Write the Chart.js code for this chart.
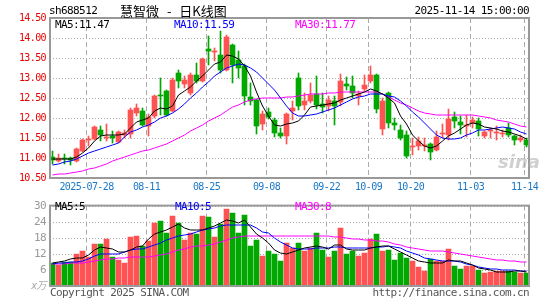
<!DOCTYPE html>
<html>
<head>
<meta charset="utf-8">
<script src="https://cdn.jsdelivr.net/npm/chart.js@4.4.0/dist/chart.umd.min.js"></script>
<style>
body { margin: 0; background: #fff; }
#wrap { position: relative; width: 545px; height: 300px; overflow: hidden;
  font-family: "DejaVu Sans Mono", monospace; font-size: 11px; letter-spacing: -0.6px; }
.t { position: absolute; line-height: 12px; white-space: nowrap; }
canvas { position: absolute; left: 0; }
</style>
</head>
<body>
<div id="wrap">
  <canvas id="k" width="545" height="200" style="top:0"></canvas>
  <canvas id="v" width="545" height="105" style="top:195px"></canvas>

  <div class="t" style="left:49px;top:5px">sh688512</div>
  <div class="t" style="left:120px;top:3px;font-family:'Noto Sans CJK SC';font-size:13px;letter-spacing:0;word-spacing:5px;line-height:15px">慧智微 - 日K线图</div>
  <div class="t" style="right:16px;top:5px">2025-11-14 15:00:00</div>

  <div class="t" style="left:55px;top:19px;color:#000">MA5:11.47</div>
  <div class="t" style="left:174px;top:19px;color:#0000ff">MA10:11.59</div>
  <div class="t" style="left:295px;top:19px;color:#ff00ff">MA30:11.77</div>

  <div class="t" style="left:55px;top:201px;color:#000">MA5:5</div>
  <div class="t" style="left:175px;top:201px;color:#0000ff">MA10:5</div>
  <div class="t" style="left:295px;top:201px;color:#ff00ff">MA30:8</div>

  <div class="t" style="left:498px;top:152px;font-family:'DejaVu Sans';font-size:18px;font-weight:bold;font-style:italic;color:rgba(170,170,170,0.55);letter-spacing:0;line-height:20px">sina</div>

  <div class="t" style="left:50px;top:287px;color:#555">Copyright 2025 SINA.COM</div>
  <div class="t" style="right:16px;top:287px;color:#555">http://finance.sina.com.cn</div>
</div>

<script>
// 交易日 (2025)
const dates = [
  '07-18','07-21','07-22','07-23','07-24','07-25','07-28','07-29','07-30','07-31',
  '08-01','08-04','08-05','08-06','08-07','08-08','08-11','08-12','08-13','08-14',
  '08-15','08-18','08-19','08-20','08-21','08-22','08-25','08-26','08-27','08-28',
  '08-29','09-01','09-02','09-03','09-04','09-05','09-08','09-09','09-10','09-11',
  '09-12','09-15','09-16','09-17','09-18','09-19','09-22','09-23','09-24','09-25',
  '09-26','09-29','09-30','10-09','10-10','10-13','10-14','10-15','10-16','10-17',
  '10-20','10-21','10-22','10-23','10-24','10-27','10-28','10-29','10-30','10-31',
  '11-03','11-04','11-05','11-06','11-07','11-10','11-11','11-12','11-13','11-14'
];
const tickDates  = ['07-28','08-11','08-25','09-08','09-22','10-09','10-20','11-03','11-14'];
const tickLabels = ['2025-07-28','08-11','08-25','09-08','09-22','10-09','10-20','11-03','11-14'];
const priceTicks = [10.5, 11, 11.5, 12, 12.5, 13, 13.5, 14, 14.5];
const volTicks = [0, 6, 12, 18, 24, 30];

const opens = [
  11.02,10.93,10.99,10.99,10.93,11.17,11.45,11.47,11.71,11.50,
  11.54,11.40,11.58,11.60,12.12,12.17,11.80,12.04,12.58,12.67,
  12.17,13.12,12.85,12.62,13.08,12.92,13.72,13.64,13.58,13.20,
  13.83,13.45,13.30,12.53,12.45,11.85,12.15,11.96,11.62,11.56,
  12.17,13.00,12.32,12.43,12.60,12.35,12.29,12.43,12.40,12.85,
  12.81,12.54,12.72,12.92,13.08,11.73,12.62,11.88,11.71,11.57,
  11.27,11.30,11.31,11.36,11.20,11.60,11.58,12.02,11.89,11.81,
  11.88,11.92,11.54,11.67,11.62,11.60,11.74,11.55,11.45,11.45
];
const highs = [
  11.17,11.09,11.10,11.02,11.25,11.48,11.55,11.80,11.79,11.85,
  11.67,11.67,11.71,12.25,12.35,12.25,12.10,12.58,13.00,12.70,
  13.00,13.20,13.04,13.12,13.37,13.50,14.05,13.75,14.17,14.08,
  13.85,13.67,13.35,12.88,12.47,12.17,12.25,12.00,11.75,12.12,
  12.42,13.12,12.62,12.88,13.04,12.62,12.56,12.54,13.10,13.02,
  13.04,12.67,13.08,13.29,13.10,12.50,12.65,12.00,11.83,11.67,
  11.50,11.52,11.50,11.37,11.67,11.85,12.23,12.14,12.04,12.07,
  12.02,12.00,11.67,11.75,11.79,11.70,11.87,11.58,11.57,11.49
];
const lows = [
  10.84,10.91,10.86,10.82,10.89,11.15,11.30,11.46,11.42,11.42,
  11.38,11.38,11.50,11.50,12.05,11.81,11.55,12.00,12.08,12.06,
  12.15,12.75,12.75,12.58,12.87,12.90,13.33,13.42,13.12,13.18,
  12.87,13.00,12.33,12.33,11.60,11.70,11.98,11.52,11.50,11.35,
  11.96,12.20,12.20,12.37,12.23,12.12,12.17,11.83,12.30,12.70,
  12.50,12.32,12.67,12.87,12.12,11.58,11.75,11.70,11.46,11.00,
  11.08,11.20,11.18,10.96,11.17,11.50,11.46,11.75,11.60,11.53,
  11.75,11.54,11.50,11.50,11.46,11.52,11.53,11.32,11.39,11.28
];
const closes = [
  10.95,11.00,10.97,10.95,11.22,11.45,11.47,11.77,11.58,11.53,
  11.50,11.65,11.62,12.20,12.25,11.83,12.02,12.54,12.54,12.08,
  12.96,12.92,12.96,13.08,12.92,13.47,13.68,13.67,13.20,14.02,
  13.33,13.25,12.55,12.43,11.80,12.10,12.02,11.62,11.56,12.10,
  12.25,12.30,12.43,12.58,12.32,12.27,12.46,12.29,12.93,12.81,
  12.62,12.60,12.83,13.08,12.23,12.43,11.87,11.83,11.50,11.06,
  11.30,11.42,11.33,11.14,11.52,11.63,11.98,11.93,11.82,11.83,
  11.96,11.73,11.64,11.71,11.64,11.63,11.57,11.45,11.51,11.33
];
const ma5 = [
  10.98,10.98,10.98,10.98,11.03,11.12,11.24,11.42,11.55,11.57,
  11.57,11.57,11.60,11.75,11.90,11.95,12.00,12.18,12.25,12.22,
  12.30,12.58,12.68,12.77,12.92,13.05,13.20,13.36,13.40,13.58,
  13.55,13.48,13.30,13.05,12.65,12.30,12.05,11.82,11.80,11.84,
  11.88,11.93,12.07,12.27,12.31,12.33,12.35,12.38,12.44,12.50,
  12.54,12.59,12.65,12.72,12.68,12.60,12.50,12.38,12.05,11.85,
  11.58,11.43,11.30,11.26,11.29,11.42,11.54,11.62,11.72,11.82,
  11.87,11.85,11.78,11.75,11.72,11.68,11.64,11.60,11.54,11.47
];
const ma10 = [
  10.83,10.86,10.89,10.93,10.98,11.05,11.12,11.17,11.22,11.27,
  11.33,11.38,11.52,11.64,11.70,11.77,11.82,11.90,12.00,12.05,
  12.13,12.22,12.36,12.50,12.62,12.78,12.90,13.05,13.15,13.25,
  13.30,13.35,13.32,13.26,13.16,13.00,12.85,12.70,12.50,12.30,
  12.13,12.06,12.04,12.07,12.10,12.14,12.19,12.26,12.33,12.40,
  12.47,12.52,12.56,12.60,12.60,12.59,12.56,12.52,12.42,12.30,
  12.15,12.02,11.88,11.72,11.57,11.50,11.48,11.48,11.50,11.57,
  11.63,11.69,11.71,11.72,11.74,11.77,11.76,11.72,11.66,11.59
];
const ma30 = [
  10.57,10.59,10.61,10.63,10.65,10.68,10.72,10.76,10.80,10.86,
  10.92,10.97,11.03,11.08,11.13,11.17,11.20,11.24,11.29,11.35,
  11.42,11.50,11.58,11.67,11.74,11.83,11.93,12.00,12.08,12.18,
  12.27,12.33,12.40,12.45,12.48,12.50,12.50,12.50,12.50,12.52,
  12.53,12.55,12.57,12.59,12.60,12.61,12.62,12.63,12.65,12.66,
  12.66,12.66,12.66,12.66,12.65,12.60,12.53,12.45,12.38,12.32,
  12.25,12.18,12.13,12.10,12.08,12.07,12.07,12.07,12.07,12.07,
  12.07,12.06,12.03,12.00,11.96,11.93,11.89,11.85,11.81,11.77
];

// 成交量 (万手)
const volumes = [
  8.7, 7.7, 8.8, 8.8,12.1,12.9,10.7,15.7,15.6,17.5,
  11.0, 9.8, 8.7,18.2,18.6,15.1,16.9,23.6,24.3,19.8,
  26.1,23.6,17.3,19.6,19.3,26.1,25.7,18.2,23.2,28.6,
  27.1,19.6,26.4,15.0,17.1,11.1,12.9,12.1, 9.3,16.1,
  14.3,16.1,12.9,14.3,19.6,13.3,10.7,12.9,21.8,12.1,
  12.9,11.1,12.5,17.5,19.3,12.9,13.3, 9.8,12.5,10.4,
   9.3, 7.1, 5.7,10.0, 9.5, 9.5,13.9, 7.5, 6.4, 7.3,
   7.3, 6.1, 4.8, 5.2, 5.7, 5.6, 5.6, 5.1, 5.0, 5.0
];
const vma5 = [
  8.6, 8.9, 9.3, 9.9,10.3,10.6,11.5,13.5,14.5,14.2,
  13.8,12.8,12.7,13.5,14.4,14.9,17.5,19.3,20.0,20.8,
  22.0,23.0,21.5,20.8,20.8,21.0,21.5,22.3,23.5,24.8,
  24.2,23.6,24.8,22.0,19.5,17.9,16.0,13.5,12.3,12.1,
  12.8,13.6,14.1,14.4,15.0,14.5,13.7,15.3,15.2,13.8,
  13.5,13.3,13.6,14.0,14.5,14.8,14.9,13.9,12.8,11.5,
  10.3, 9.5, 8.8, 8.6, 8.6, 8.6, 9.8, 9.5, 9.2, 8.7,
   7.8, 6.9, 6.2, 5.8, 5.4, 5.4, 5.4, 5.5, 5.5, 5.3
];
const vma10 = [
  8.35, 8.5, 8.6, 8.8, 9.1, 9.5,10.2,11.3,11.9,12.0,
  12.0,12.1,12.8,13.5,13.8,13.9,14.5,15.3,16.2,17.0,
  17.9,18.6,19.2,19.5,20.2,20.8,21.2,21.8,22.5,22.7,
  22.9,22.9,22.9,22.7,21.5,20.2,19.6,18.0,16.5,15.2,
  14.2,13.7,13.8,13.9,14.0,14.1,14.3,14.4,14.5,14.1,
  14.0,14.0,14.2,14.3,14.5,14.7,14.9,14.5,14.0,13.1,
  12.3,11.4,10.4,10.0, 9.6, 9.5, 9.5, 9.3, 9.0, 8.3,
   7.7, 7.1, 6.6, 6.4, 6.2, 6.1, 6.0, 5.8, 5.7, 5.6
];
const vma30 = [
  8.1, 8.2, 8.3, 8.4, 8.5, 8.6, 8.8, 9.2, 9.6, 9.9,
  10.2,10.4,10.5,10.7,10.8,10.9,11.0,11.2,11.6,12.1,
  12.6,13.3,13.9,14.4,14.8,15.1,15.4,15.7,16.5,17.2,
  17.8,18.4,18.6,18.7,18.7,18.7,18.7,18.7,18.7,18.7,
  18.7,18.7,18.7,18.6,18.6,18.5,18.5,18.3,18.1,17.9,
  17.7,17.5,17.3,17.1,16.9,16.7,16.3,15.8,15.2,14.6,
  14.1,13.8,13.4,13.2,13.1,12.9,12.7,12.4,12.0,11.6,
  11.2,10.7,10.4,10.1, 9.8, 9.6, 9.5, 9.3, 9.1, 9.0
];

const UP = '#ff5353';
const DOWN = '#00a800';
const GRID = '#aaaaaa';
const MONO = '"DejaVu Sans Mono", "Noto Sans CJK SC", monospace';

const candleColors = closes.map((c, i) => c >= opens[i] ? UP : DOWN);
const tickIdx = tickDates.map(d => dates.indexOf(d));
const pts = arr => arr.map((v, i) => ({ x: i, y: v }));

// 6px per trading day, first candle centred at x=52.5
const X_MIN = -2.5 / 6;
const X_MAX = X_MIN + 479 / 6;

const frame = {
  id: 'frame',
  afterDatasetsDraw(chart) {
    const { ctx, chartArea: a } = chart;
    ctx.save();
    ctx.strokeStyle = '#999';
    ctx.lineWidth = 2;
    ctx.strokeRect(a.left, a.top, a.right - a.left, a.bottom - a.top);
    ctx.restore();
  }
};

function xScale(showLabels) {
  return {
    type: 'linear', offset: false, min: X_MIN, max: X_MAX,
    afterBuildTicks: s => { s.ticks = tickIdx.map(i => ({ value: i - 1 / 3 })); },
    afterFit: s => { s.height = showLabels ? 22 : 0; },
    grid: { offset: false, color: GRID, lineWidth: 1, drawTicks: false },
    border: { display: false, dash: [5, 3] },
    ticks: {
      display: showLabels, autoSkip: false, maxRotation: 0, padding: 3,
      color: '#1a78c8', font: { family: MONO, size: 10 },
      callback: (v, idx) => tickLabels[idx]
    }
  };
}

function line(arr, color) {
  return { type: 'line', data: pts(arr), borderColor: color, borderWidth: 1,
    pointRadius: 0, tension: 0, order: 0 };
}

new Chart(document.getElementById('k'), {
  type: 'bar',
  data: {
    datasets: [
      line(ma5, '#000000'),
      line(ma10, '#0000ff'),
      line(ma30, '#ff00ff'),
      { data: opens.map((o, i) => ({ x: i, y: [o, closes[i]] })), backgroundColor: candleColors,
        barThickness: 5, grouped: false, minBarLength: 1, borderWidth: 0, order: 1 },
      { data: lows.map((l, i) => ({ x: i, y: [l, highs[i]] })), backgroundColor: candleColors,
        barThickness: 1, grouped: false, borderWidth: 0, order: 2 }
    ]
  },
  options: {
    responsive: false, animation: false, devicePixelRatio: 1,
    layout: { padding: { top: 18, right: 16, left: 0, bottom: 0 } },
    plugins: { legend: { display: false }, tooltip: { enabled: false } },
    scales: {
      x: xScale(true),
      y: {
        min: priceTicks[0], max: priceTicks[priceTicks.length - 1], alignToPixels: true,
        afterBuildTicks: s => { s.ticks = priceTicks.map(v => ({ value: v })); },
        afterFit: s => { s.width = 50; },
        grid: { color: GRID, drawTicks: false },
        border: { display: false, dash: [1, 2] },
        ticks: { padding: 4, color: '#e60000', font: { family: MONO, size: 10 },
          callback: v => v.toFixed(2) }
      }
    }
  },
  plugins: [frame]
});

new Chart(document.getElementById('v'), {
  type: 'bar',
  data: {
    datasets: [
      line(vma5, '#000000'),
      line(vma10, '#0000ff'),
      line(vma30, '#ff00ff'),
      { data: pts(volumes), backgroundColor: candleColors, barThickness: 5, grouped: false,
        borderWidth: 0, order: 1 }
    ]
  },
  options: {
    responsive: false, animation: false, devicePixelRatio: 1,
    layout: { padding: { top: 6, right: 16, left: 0, bottom: 14 } },
    plugins: { legend: { display: false }, tooltip: { enabled: false } },
    scales: {
      x: xScale(false),
      y: {
        min: 0, max: 30, alignToPixels: true,
        afterBuildTicks: s => { s.ticks = volTicks.map(v => ({ value: v })); },
        afterFit: s => { s.width = 50; },
        grid: { color: GRID, drawTicks: false },
        border: { display: false, dash: [1, 2] },
        ticks: {
          padding: 4,
          color: c => c.tick && c.tick.value === 0 ? '#a8a8a8' : '#999999',
          font: c => ({ family: MONO, size: c.tick && c.tick.value === 0 ? 10 : 11,
            style: c.tick && c.tick.value === 0 ? 'italic' : 'normal' }),
          callback: v => v === 0 ? 'x万' : v
        }
      }
    }
  },
  plugins: [frame]
});
</script>
</body>
</html>
